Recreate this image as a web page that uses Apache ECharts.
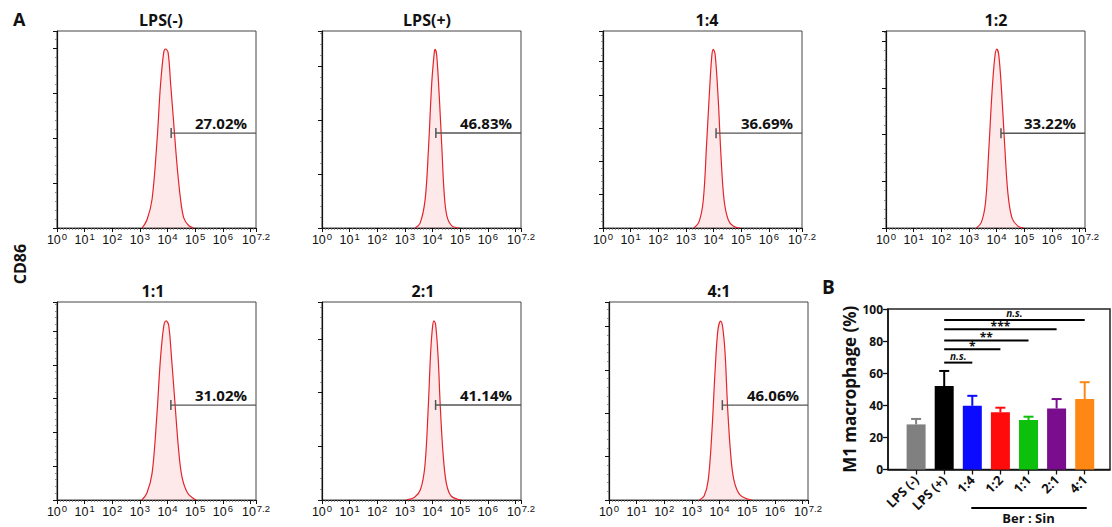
<!DOCTYPE html>
<html><head><meta charset="utf-8">
<script src="https://cdn.jsdelivr.net/npm/echarts@6/dist/echarts.min.js"></script>
<style>html,body{margin:0;padding:0;background:#fff}#c{width:1112px;height:527px}</style>
</head><body><div id="c"></div>
<script>
// ---------- Panel A: flow cytometry histograms ----------
const panelTitles = ['LPS(-)', 'LPS(+)', '1:4', '1:2', '1:1', '2:1', '4:1'];
const gatePercent = ['27.02%', '46.83%', '36.69%', '33.22%', '31.02%', '41.14%', '46.06%'];
const gateStart = [4.13, 4.12, 4.09, 4.16, 4.12, 4.11, 4.10];      // log10 fluorescence
const gateLevel = [211, 176, 285, 203, 281, 177, 219];             // counts
const countMax = [438, 365, 592, 422, 586, 369, 457];             // y-axis max (counts)
const decadeExp = [0, 1, 2, 3, 4, 5, 6, 7.2];
const decadeSup = ['0', '1', '2', '3', '4', '5', '6', '7.2'];

const histLPSneg = [[3.08,0],[3.26,19],[3.44,64],[3.62,195],[3.74,314],[3.86,390],[3.93,398],[4.02,390],[4.11,322],[4.23,227],[4.35,135],[4.47,64],[4.59,22],[4.77,5],[4.95,0]];
const histLPSpos = [[3.37,0],[3.55,9],[3.73,52],[3.85,145],[3.97,268],[4.06,324],[4.09,331],[4.15,320],[4.25,237],[4.34,145],[4.42,65],[4.52,22],[4.70,4],[4.98,0]];
const hist1to4 = [[3.29,0],[3.48,20],[3.63,85],[3.75,255],[3.87,435],[3.94,520],[3.99,537],[4.06,520],[4.17,385],[4.27,215],[4.38,85],[4.53,25],[4.72,5],[4.96,0]];
const hist1to2 = [[3.27,0],[3.45,12],[3.60,54],[3.72,168],[3.84,295],[3.94,368],[4.01,383],[4.08,371],[4.18,295],[4.29,182],[4.41,75],[4.56,21],[4.77,4],[4.98,0]];
const hist1to1 = [[3.07,0],[3.25,20],[3.44,79],[3.61,247],[3.74,414],[3.86,513],[3.95,530],[4.04,518],[4.14,425],[4.26,296],[4.39,158],[4.52,69],[4.73,20],[5.03,0]];
const hist2to1 = [[3.05,0],[3.35,5],[3.56,19],[3.72,62],[3.84,168],[3.93,274],[4.00,323],[4.05,334],[4.11,327],[4.20,268],[4.28,174],[4.38,87],[4.50,31],[4.68,7],[5.04,0]];
const hist4to1 = [[3.27,0],[3.44,9],[3.59,46],[3.72,154],[3.84,300],[3.94,392],[4.04,413],[4.11,400],[4.20,339],[4.29,215],[4.40,108],[4.52,46],[4.74,12],[5.16,0]];
const histograms = [histLPSneg, histLPSpos, hist1to4, hist1to2, hist1to1, hist2to1, hist4to1];

// ---------- Panel B: M1 macrophage bar chart ----------
const barCats = ['LPS (-)', 'LPS (+)', '1:4', '1:2', '1:1', '2:1', '4:1'];
const barMean = [28.1, 52.0, 39.7, 35.6, 30.8, 38.0, 43.9];
const barSD = [3.4, 9.4, 6.2, 2.9, 2.1, 5.9, 10.5];
const barColors = ['#808080', '#000000', '#0b0bff', '#ff0b0b', '#0cc00c', '#7a0c8e', '#ff8714'];
const yTicksB = [0, 20, 40, 60, 80, 100];
const sigFrom = [1, 1, 1, 1, 1];
const sigTo = [2, 3, 4, 5, 6];
const sigY = [66.6, 75.0, 80.3, 87.4, 93.2];
const sigLabel = ['n.s.', '*', '**', '***', 'n.s.'];
const groupLabel = 'Ber : Sin';
const groupFrom = 2, groupTo = 6;

// ---------- layout ----------
const panelLeft = [57, 322, 603, 886, 57, 322, 609];
const panelTop = [31, 31, 31, 31, 302, 302, 302];
const panelH = [197, 197, 197, 197, 198, 198, 198];
const titleCenter = [161, 427, 707, 996, 153, 423, 719];
const titleTop = [12, 12, 12, 12, 283, 283, 283];

const boldFont = '"Open Sans", "DejaVu Sans", sans-serif';
const tickFont = '"Liberation Sans", Arial, sans-serif';
const grids = [], xAxes = [], yAxes = [], series = [], titles = [];

for (let i = 0; i < 7; i++) {
  grids.push({left: panelLeft[i], top: panelTop[i], width: 199, height: panelH[i],
    show: true, borderColor: '#444', borderWidth: 1, backgroundColor: 'transparent'});
  xAxes.push({gridIndex: i, type: 'value', min: 0, max: 7.2, interval: 1,
    axisLine: {show: true, onZero: false, lineStyle: {color: '#111', width: 1.2}},
    axisTick: {show: true, length: 4, lineStyle: {color: '#111', width: 1}},
    minorTick: {show: true, splitNumber: 9, length: 2, lineStyle: {color: '#777', width: 0.8}},
    splitLine: {show: false}, minorSplitLine: {show: false},
    axisLabel: {customValues: decadeExp, margin: 3, color: '#111', fontSize: 12.5, fontFamily: tickFont,
      formatter: function (v) { const k = decadeExp.indexOf(v); return '10{sup|' + (k >= 0 ? decadeSup[k] : v) + '}'; },
      rich: {sup: {fontSize: 9.5, fontFamily: tickFont, color: '#111', padding: [0, 0, 8, 1]}}}
  });
  yAxes.push({gridIndex: i, type: 'value', min: 0, max: countMax[i], interval: 100,
    axisLine: {show: true, onZero: false, lineStyle: {color: '#111', width: 1.2}},
    axisTick: {show: true, length: 4, lineStyle: {color: '#111'}},
    minorTick: {show: true, splitNumber: 5, length: 2, lineStyle: {color: '#777', width: 0.8}},
    axisLabel: {show: false}, splitLine: {show: false}, minorSplitLine: {show: false}});
  series.push({type: 'line', xAxisIndex: i, yAxisIndex: i, data: histograms[i], smooth: 0.35,
    symbol: 'none', silent: true, z: 2,
    lineStyle: {color: '#e3242b', width: 1.2},
    areaStyle: {color: 'rgba(240,110,110,0.22)'}});
  series.push({type: 'line', xAxisIndex: i, yAxisIndex: i, silent: true, z: 3,
    symbol: 'rect', showSymbol: true, symbolSize: [1.5, 10],
    itemStyle: {color: '#555'}, lineStyle: {color: '#555', width: 1.3},
    data: [{value: [gateStart[i], gateLevel[i]]}, {value: [7.2, gateLevel[i]], symbol: 'none'}]});
  titles.push({text: panelTitles[i], left: titleCenter[i], top: titleTop[i], textAlign: 'center', padding: 0,
    textStyle: {fontSize: 16, fontWeight: 'bold', fontFamily: boldFont, color: '#111'}});
}

// Bar chart grid (index 7)
grids.push({left: 888, top: 309, width: 222, height: 160.5, show: true, borderColor: '#222', borderWidth: 1.5, backgroundColor: 'transparent'});
xAxes.push({gridIndex: 7, type: 'value', min: -1, max: 6.9,
  axisLine: {show: true, onZero: false, lineStyle: {color: '#111', width: 1.5}},
  axisTick: {show: true, customValues: [0, 1, 2, 3, 4, 5, 6], length: 5, lineStyle: {color: '#111', width: 1.3}},
  splitLine: {show: false},
  axisLabel: {customValues: [0, 1, 2, 3, 4, 5, 6], rotate: 45, margin: 8, color: '#111',
    fontSize: 13, fontWeight: 'bold', fontFamily: boldFont,
    formatter: function (v) { return barCats[v]; }}});
yAxes.push({gridIndex: 7, type: 'value', min: 0, max: 100, interval: 20,
  name: 'M1 macrophage (%)', nameLocation: 'middle', nameGap: 30,
  nameTextStyle: {fontSize: 17, fontWeight: 'bold', fontFamily: boldFont, color: '#111'},
  axisLine: {show: true, onZero: false, lineStyle: {color: '#111', width: 1.5}},
  axisTick: {show: true, length: 5, lineStyle: {color: '#111', width: 1.3}},
  axisLabel: {customValues: yTicksB, color: '#111', fontSize: 12, fontWeight: 'bold', fontFamily: boldFont, margin: 5},
  splitLine: {show: false}});

series.push({type: 'custom', xAxisIndex: 7, yAxisIndex: 7, silent: true, z: 1,
  data: barMean.map((m, i) => [i, m, m + barSD[i]]),
  renderItem: function (params, api) {
    const base = api.coord([api.value(0), api.value(1)]);
    const top = api.coord([api.value(0), api.value(2)]);
    const c = barColors[params.dataIndex];
    return {type: 'group', children: [
      {type: 'line', shape: {x1: base[0], y1: base[1], x2: top[0], y2: top[1]}, style: {stroke: c, lineWidth: 2}},
      {type: 'line', shape: {x1: top[0] - 5, y1: top[1], x2: top[0] + 5, y2: top[1]}, style: {stroke: c, lineWidth: 2}}
    ]};
  }});
series.push({type: 'bar', xAxisIndex: 7, yAxisIndex: 7, barWidth: 19, silent: true, z: 2,
  data: barMean.map((m, i) => ({value: [i, m], itemStyle: {color: barColors[i]}}))});
series.push({type: 'custom', xAxisIndex: 7, yAxisIndex: 7, silent: true, z: 3,
  data: sigFrom.map((s, i) => [s, sigTo[i], sigY[i]]),
  renderItem: function (params, api) {
    const p1 = api.coord([api.value(0), api.value(2)]);
    const p2 = api.coord([api.value(1), api.value(2)]);
    const lab = sigLabel[params.dataIndex];
    const ns = lab === 'n.s.';
    return {type: 'group', children: [
      {type: 'line', shape: {x1: p1[0], y1: p1[1], x2: p2[0], y2: p2[1]}, style: {stroke: '#000', lineWidth: 2}},
      {type: 'text', x: (p1[0] + p2[0]) / 2, y: p1[1] + (ns ? -1.5 : 3),
        style: {text: lab, textAlign: 'center', textVerticalAlign: 'bottom', fill: '#111',
          fontSize: ns ? 10 : 12, fontWeight: 'bold', fontStyle: ns ? 'italic' : 'normal', fontFamily: boldFont}}
    ]};
  }});
series.push({type: 'custom', xAxisIndex: 7, yAxisIndex: 7, silent: true, z: 3, clip: false,
  data: [[groupFrom, groupTo]],
  renderItem: function (params, api) {
    const p1 = api.coord([api.value(0), 0]);
    const p2 = api.coord([api.value(1), 0]);
    const y = p1[1] + 38.5;
    return {type: 'group', children: [
      {type: 'line', shape: {x1: p1[0] - 1, y1: y, x2: p2[0] + 2, y2: y}, style: {stroke: '#000', lineWidth: 2}},
      {type: 'text', x: (p1[0] + p2[0]) / 2, y: y + 3,
        style: {text: groupLabel, textAlign: 'center', textVerticalAlign: 'top', fill: '#111',
          fontSize: 13, fontWeight: 'bold', fontFamily: boldFont}}
    ]};
  }});

const chart = echarts.init(document.getElementById('c'), null, {renderer: 'svg', width: 1112, height: 527});
chart.setOption({
  animation: false, backgroundColor: '#ffffff',
  title: titles, grid: grids, xAxis: xAxes, yAxis: yAxes, series: series
});

// text annotations
const gfx = [
  {type: 'text', x: 13, y: 10, style: {text: 'A', fontSize: 18, fontWeight: 'bold', fontFamily: boldFont, fill: '#111'}},
  {type: 'text', x: 822, y: 277, style: {text: 'B', fontSize: 19, fontWeight: 'bold', fontFamily: boldFont, fill: '#111'}},
  {type: 'text', x: 20, y: 264, rotation: Math.PI / 2,
    style: {text: 'CD86', fontSize: 16, fontWeight: 'bold', fontFamily: boldFont, fill: '#111', textAlign: 'center', textVerticalAlign: 'middle'}}
];
for (let i = 0; i < 7; i++) {
  const p = chart.convertToPixel({gridIndex: i}, [7.2, gateLevel[i]]);
  gfx.push({type: 'text', x: p[0] - 9, y: p[1] - 3,
    style: {text: gatePercent[i], fontSize: 15, fontWeight: 'bold', fontFamily: boldFont, fill: '#111',
      textAlign: 'right', textVerticalAlign: 'bottom'}});
}
chart.setOption({graphic: gfx});
</script></body></html>
